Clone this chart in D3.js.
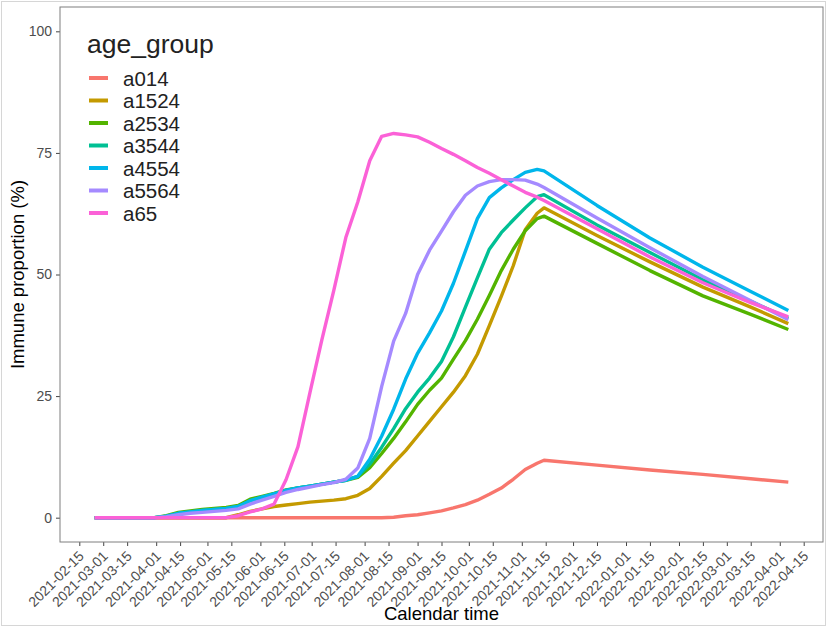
<!DOCTYPE html>
<html>
<head>
<meta charset="utf-8">
<script src="https://cdn.jsdelivr.net/npm/d3@7"></script>
<style>
body { margin: 0; background: #fff; }
svg { display: block; font-family: "Liberation Sans", Arial, sans-serif; }
</style>
</head>
<body>
<div class="chart"></div>
<script>
// weekly sample dates (shared by all groups)
dates = ["2021-02-24","2021-03-03","2021-03-10","2021-03-17","2021-03-24","2021-03-31",
    "2021-04-07","2021-04-14","2021-04-21","2021-04-28","2021-05-05","2021-05-12",
    "2021-05-19","2021-05-26","2021-06-02","2021-06-09","2021-06-16","2021-06-23",
    "2021-06-30","2021-07-07","2021-07-14","2021-07-21","2021-07-28","2021-08-04",
    "2021-08-11","2021-08-18","2021-08-25","2021-09-01","2021-09-08","2021-09-15",
    "2021-09-22","2021-09-29","2021-10-06","2021-10-13","2021-10-20","2021-10-27",
    "2021-11-03","2021-11-10","2021-11-14","2021-12-15","2022-01-15","2022-02-15",
    "2022-03-15","2022-04-06"];

groups = ["a014","a1524","a2534","a3544","a4554","a5564","a65"];
group_colors = ["#F8766D","#C49A00","#53B400","#00C094","#00B6EB","#A58AFF","#FB61D7"];

a014  = [0,0,0,0,0,0, 0,0,0,0,0,0, 0,0,0,0,0,0, 0,0,0,0,0,0,
    0,0.1,0.4,0.6,1.0,1.4, 2.0,2.7,3.6,4.8,6.1,7.9, 9.9,11.2,11.8,10.8,9.8,8.9, 8.0,7.3];
a1524 = [0,0,0,0,0,0, 0,0,0,0,0,0, 0.6,1.3,1.8,2.3,2.6,2.9, 3.2,3.4,3.6,3.9,4.6,6.0,
    8.5,11.2,13.8,16.8,19.8,22.8, 25.8,29.2,33.6,39.5,45.5,51.8, 59.2,62.6,63.7,58.0,52.6,47.4, 43.3,39.9];
a2534 = [0,0,0,0,0,0, 0.4,1.1,1.4,1.7,1.9,2.1, 2.5,3.8,4.4,5.0,5.7,6.1, 6.5,6.9,7.3,7.7,8.3,10.3,
    13.2,16.3,19.7,23.3,26.2,28.7, 32.6,36.4,40.8,45.7,50.8,55.2, 59.0,61.5,62.0,56.4,50.8,45.6, 41.8,38.7];
a3544 = [0,0,0,0,0,0, 0.3,0.9,1.2,1.5,1.7,1.9, 2.3,3.5,4.2,4.9,5.6,6.1, 6.5,6.9,7.3,7.7,8.5,11.0,
    14.5,18.3,22.4,25.8,28.7,32.1, 37.2,43.3,49.3,55.2,58.6,61.2, 63.7,66.0,66.4,60.2,54.5,48.9, 44.5,41.0];
a4554 = [0,0,0,0,0,0, 0.3,0.9,1.2,1.5,1.7,1.9, 2.3,3.5,4.2,4.9,5.6,6.1, 6.5,6.9,7.3,7.7,8.5,12.0,
    16.8,22.3,28.5,33.8,38.0,42.5, 48.2,54.8,61.5,65.8,67.8,69.5, 71.0,71.6,71.3,64.2,57.5,51.5, 46.5,42.6];
a5564 = [0,0,0,0,0,0, 0.2,0.6,0.9,1.1,1.3,1.5, 1.8,2.8,3.6,4.4,5.2,5.8, 6.3,6.8,7.2,7.9,10.2,16.3,
    27.0,36.3,42.0,50.0,55.0,58.9, 62.9,66.3,68.2,69.1,69.5,69.5, 69.4,68.6,67.9,61.6,55.5,49.6, 44.6,40.7];
a65   = [0,0,0,0,0,0, 0,0,0,0,0,0, 0.4,1.2,1.8,2.8,7.8,14.6, 25.7,36.6,46.8,57.6,64.9,73.4,
    78.4,79.0,78.7,78.3,77.2,75.9, 74.7,73.4,72.0,70.8,69.5,68.2, 66.9,65.9,65.2,59.4,53.6,48.3, 44.2,41.3];

group_values = [a014,a1524,a2534,a3544,a4554,a5564,a65];

x_ticks = ["2021-02-15","2021-03-01","2021-03-15","2021-04-01","2021-04-15","2021-05-01",
    "2021-05-15","2021-06-01","2021-06-15","2021-07-01","2021-07-15","2021-08-01",
    "2021-08-15","2021-09-01","2021-09-15","2021-10-01","2021-10-15","2021-11-01",
    "2021-11-15","2021-12-01","2021-12-15","2022-01-01","2022-01-15","2022-02-01",
    "2022-02-15","2022-03-01","2022-03-15","2022-04-01","2022-04-15"];
y_ticks = [0,25,50,75,100];

function chart_init(divclass){
    var W = 827, H = 627;
    var left = 60, right = 823, top = 7, bottom = 542;
    var parse = d3.utcParse("%Y-%m-%d");

    var svg = d3.select("div."+divclass)
        .append("svg")
        .attr("width",W)
        .attr("height",H);

    svg.append("rect")
        .attr("x",1.5).attr("y",1.5)
        .attr("width",W-3).attr("height",H-3)
        .attr("fill","#fff")
        .attr("stroke","#d6d6d6");

    // ggplot style 5% expansion on both axes
    var t0 = parse(dates[0]), t1 = parse(dates[dates.length-1]);
    var pad = (t1-t0)*0.05;
    var x = d3.scaleUtc()
        .domain([new Date(+t0-pad), new Date(+t1+pad)])
        .range([left,right]);
    var y = d3.scaleLinear()
        .domain([-5,105])
        .range([bottom,top]);

    // y axis
    var yAxis = d3.axisLeft(y)
        .tickValues(y_ticks)
        .tickSize(4)
        .tickPadding(4);
    var gy = svg.append("g")
        .attr("transform","translate("+left+",0)")
        .call(yAxis);
    gy.select(".domain").remove();
    gy.selectAll("line").attr("stroke","#444");
    gy.selectAll("text")
        .attr("fill","#4d4d4d")
        .attr("font-size","14px")
        .attr("font-family","Liberation Sans, Arial, sans-serif");

    // x axis
    var xAxis = d3.axisBottom(x)
        .tickValues(x_ticks.map(parse))
        .tickFormat(d3.utcFormat("%Y-%m-%d"))
        .tickSize(4);
    var gx = svg.append("g")
        .attr("transform","translate(0,"+bottom+")")
        .call(xAxis);
    gx.select(".domain").remove();
    gx.selectAll("line").attr("stroke","#444");
    gx.selectAll("text")
        .attr("fill","#4d4d4d")
        .attr("font-size","14px")
        .attr("font-family","Liberation Sans, Arial, sans-serif")
        .attr("text-anchor","end")
        .attr("dy",null)
        .attr("y",0)
        .attr("transform","translate(5,15) rotate(-45)");

    // lines
    var line = d3.line()
        .x(function(d,i){ return x(parse(dates[i])); })
        .y(function(d){ return y(d); });
    svg.selectAll(".group_line")
        .data(group_values)
        .enter()
        .append("path")
        .attr("class","group_line")
        .attr("d",line)
        .attr("fill","none")
        .attr("stroke",function(d,i){ return group_colors[i]; })
        .attr("stroke-width",3.4)
        .attr("stroke-linejoin","round");

    // panel border
    svg.append("rect")
        .attr("x",left).attr("y",top)
        .attr("width",right-left).attr("height",bottom-top)
        .attr("fill","none")
        .attr("stroke","#7f7f7f")
        .attr("stroke-width",1);

    // axis titles
    svg.append("text")
        .text("Calendar time")
        .attr("x",(left+right)/2)
        .attr("y",620)
        .attr("text-anchor","middle")
        .attr("font-size","18.5px")
        .attr("fill","#000");
    svg.append("text")
        .text("Immune proportion (%)")
        .attr("transform","translate(24,"+((top+bottom)/2)+") rotate(-90)")
        .attr("text-anchor","middle")
        .attr("font-size","18.5px")
        .attr("fill","#000");

    // legend
    svg.append("text")
        .text("age_group")
        .attr("x",87)
        .attr("y",53)
        .attr("font-size","26.5px")
        .attr("fill","#222");
    svg.selectAll(".legend_key")
        .data(groups)
        .enter()
        .append("line")
        .attr("class","legend_key")
        .attr("x1",89).attr("x2",108)
        .attr("y1",function(d,i){ return 78+i*22.5; })
        .attr("y2",function(d,i){ return 78+i*22.5; })
        .attr("stroke",function(d,i){ return group_colors[i]; })
        .attr("stroke-width",4);
    svg.selectAll(".legend_text")
        .data(groups)
        .enter()
        .append("text")
        .attr("class","legend_text")
        .text(function(d){ return d; })
        .attr("x",123)
        .attr("y",function(d,i){ return 78+i*22.5+7.5; })
        .attr("font-size","20.5px")
        .attr("fill","#222");
}

chart_init("chart");
</script>
</body>
</html>
